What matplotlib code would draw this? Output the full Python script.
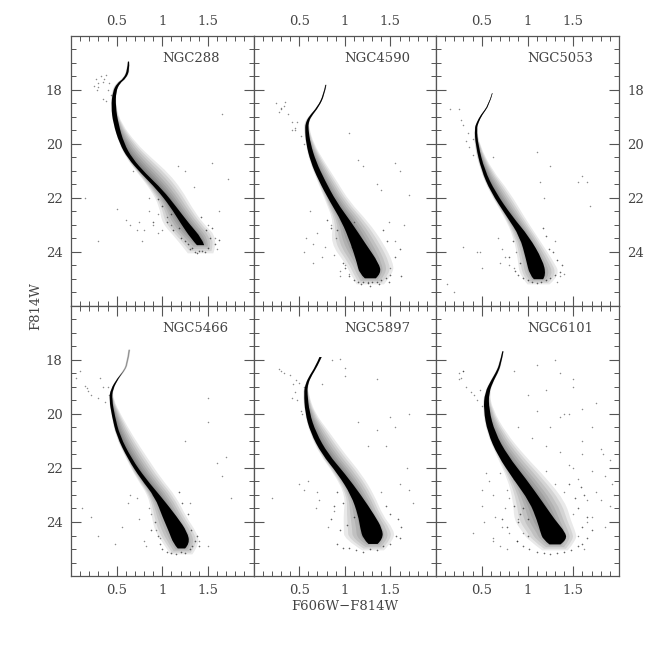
import matplotlib
matplotlib.use("Agg")
import matplotlib.pyplot as plt
from matplotlib.path import Path
from matplotlib.patches import PathPatch
from matplotlib.ticker import MultipleLocator, FixedLocator, FuncFormatter

names = ["NGC288", "NGC4590", "NGC5053", "NGC5466", "NGC5897", "NGC6101"]
x_ticks = [0.5, 1, 1.5]
y_ticks = [18, 20, 22, 24]

# ridge line: magnitude, colour, half width of dense core,
# red-side and blue-side extent of the surrounding star cloud
ngc288_mag = [16.95, 17.26, 17.57, 17.75, 18.06, 18.62, 19.23, 19.98, 20.53, 21.09, 21.70, 22.32, 22.94, 23.50, 24.05]
ngc288_col = [0.63, 0.63, 0.59, 0.52, 0.475, 0.465, 0.49, 0.556, 0.647, 0.793, 0.975, 1.12, 1.247, 1.375, 1.42]
ngc288_core = [0.006, 0.012, 0.012, 0.014, 0.018, 0.025, 0.028, 0.025, 0.025, 0.025, 0.03, 0.032, 0.045, 0.06, 0.04]
ngc288_red = [0.01, 0.02, 0.02, 0.02, 0.02, 0.03, 0.06, 0.16, 0.24, 0.28, 0.24, 0.2, 0.2, 0.24, 0.14]
ngc288_blue = [0.01, 0.02, 0.02, 0.03, 0.03, 0.03, 0.03, 0.03, 0.04, 0.06, 0.1, 0.15, 0.25, 0.22, 0.14]
ngc288_fx = [0.27, 0.30, 0.25, 0.33, 0.38, 0.28, 0.35, 0.42, 0.35, 0.38, 0.44, 0.40, 0.30, 0.36, 0.75, 0.65, 0.60, 0.80, 0.85, 0.72, 0.90, 0.95, 1.00, 0.85, 0.68, 0.50, 0.30, 0.15, 1.65, 1.55, 1.72, 1.62, 1.17, 1.25, 0.95, 0.78, 1.1, 1.05, 1.35, 1.5, 1.58, 1.6]
ngc288_fy = [17.6, 17.9, 17.85, 17.5, 17.45, 18.0, 17.7, 17.75, 18.35, 18.4, 18.2, 18.0, 17.75, 17.6, 22.9, 23.0, 22.8, 23.2, 22.5, 23.2, 23.0, 22.6, 23.2, 22.0, 21.0, 22.4, 23.6, 22.0, 18.9, 20.7, 21.3, 22.5, 20.8, 21.0, 23.3, 23.6, 23.0, 22.7, 21.6, 23.0, 23.5, 23.9]
ngc288_lx = [1.05, 1.12, 1.2, 1.28, 1.3, 1.36, 1.44, 1.5, 1.52, 1.58, 1.62, 1.4, 1.33, 1.25, 1.18, 1.1, 1.0, 0.95, 0.9, 1.48, 1.55, 1.42, 1.47, 1.38]
ngc288_ly = [22.9, 23.2, 23.5, 23.7, 23.9, 24.0, 23.95, 23.85, 23.5, 23.7, 23.55, 23.95, 23.85, 23.6, 23.1, 22.6, 22.3, 22.05, 22.9, 23.2, 23.1, 22.7, 24.0, 24.05]

ngc4590_mag = [17.81, 18.19, 18.62, 18.99, 19.2, 19.42, 19.98, 20.65, 21.33, 22.14, 22.88, 23.68, 24.42, 24.79, 25.2]
ngc4590_col = [0.793, 0.771, 0.709, 0.618, 0.59, 0.582, 0.60, 0.655, 0.745, 0.873, 1.018, 1.145, 1.255, 1.28, 1.28]
ngc4590_core = [0.004, 0.006, 0.008, 0.012, 0.015, 0.018, 0.024, 0.03, 0.035, 0.035, 0.05, 0.08, 0.12, 0.12, 0.06]
ngc4590_red = [0.01, 0.01, 0.01, 0.02, 0.02, 0.03, 0.06, 0.12, 0.16, 0.18, 0.24, 0.28, 0.28, 0.25, 0.15]
ngc4590_blue = [0.01, 0.01, 0.01, 0.02, 0.03, 0.03, 0.03, 0.04, 0.05, 0.08, 0.14, 0.3, 0.25, 0.22, 0.15]
ngc4590_fx = [0.25, 0.28, 0.33, 0.30, 0.38, 0.42, 0.45, 0.48, 0.46, 0.42, 0.52, 0.55, 0.35, 0.30, 0.62, 0.58, 0.70, 0.78, 0.85, 0.90, 0.75, 0.55, 0.65, 1.0, 1.05, 1.1, 0.88, 0.95, 0.65, 0.95, 1.6, 1.55, 1.7, 1.65, 1.48, 1.55, 1.35, 1.4, 1.2, 1.15, 1.05, 1.25, 1.5]
ngc4590_fy = [18.5, 18.8, 18.6, 18.7, 18.9, 19.2, 19.4, 19.2, 19.5, 19.5, 19.7, 20.0, 18.45, 18.65, 22.5, 23.5, 23.3, 23.8, 23.0, 23.5, 24.2, 24.0, 23.7, 24.5, 24.8, 22.9, 24.1, 24.7, 24.4, 24.9, 21.0, 20.7, 21.9, 23.0, 22.9, 23.6, 21.5, 21.7, 20.8, 20.6, 19.6, 25.1, 24.6]
ngc4590_lx = [1.05, 1.1, 1.15, 1.2, 1.25, 1.3, 1.35, 1.4, 1.45, 1.5, 1.18, 1.28, 1.38, 1.48, 0.98, 1.0, 1.08, 1.55, 1.6, 1.62, 0.92, 0.85, 0.8, 1.42, 1.46]
ngc4590_ly = [24.9, 25.05, 25.1, 25.1, 25.15, 25.1, 25.1, 25.05, 24.95, 24.85, 25.2, 25.25, 25.2, 25.1, 24.4, 24.6, 23.8, 24.2, 23.9, 24.9, 23.2, 23.1, 22.8, 23.2, 23.6]

ngc5053_mag = [18.12, 18.56, 18.93, 19.2, 19.42, 20.04, 20.96, 21.77, 22.69, 23.43, 24.30, 24.85, 25.2]
ngc5053_col = [0.615, 0.578, 0.495, 0.455, 0.433, 0.447, 0.513, 0.622, 0.804, 0.967, 1.076, 1.113, 1.12]
ngc5053_core = [0.003, 0.005, 0.008, 0.01, 0.012, 0.014, 0.018, 0.025, 0.03, 0.05, 0.09, 0.09, 0.05]
ngc5053_red = [0.005, 0.006, 0.01, 0.01, 0.015, 0.03, 0.1, 0.18, 0.16, 0.14, 0.2, 0.25, 0.12]
ngc5053_blue = [0.005, 0.006, 0.01, 0.01, 0.015, 0.03, 0.03, 0.04, 0.06, 0.12, 0.18, 0.2, 0.12]
ngc5053_fx = [0.15, 0.25, 0.27, 0.35, 0.30, 0.33, 0.40, 0.36, 0.40, 0.62, 0.48, 0.68, 0.72, 0.70, 0.75, 0.80, 0.87, 0.92, 0.85, 0.88, 1.14, 1.18, 1.25, 1.30, 1.55, 1.6, 1.65, 1.68, 1.4, 1.35, 0.3, 0.45, 0.5, 0.12, 1.32, 1.1, 0.2]
ngc5053_fy = [18.7, 18.7, 19.1, 19.6, 19.3, 19.9, 19.8, 20.1, 20.4, 20.5, 24.0, 23.5, 23.9, 24.4, 24.2, 24.5, 24.0, 23.5, 24.6, 23.2, 21.4, 22.0, 20.8, 23.6, 21.4, 21.2, 21.4, 22.3, 24.8, 24.9, 23.8, 24.0, 24.6, 25.2, 25.1, 20.3, 25.5]
ngc5053_lx = [0.86, 0.9, 0.95, 1.0, 1.05, 1.1, 1.15, 1.2, 1.25, 1.3, 1.35, 0.92, 1.32, 1.38, 1.24, 1.28, 1.2, 1.17, 0.8, 0.84, 1.0, 1.04]
ngc5053_ly = [24.7, 24.85, 24.95, 25.05, 25.1, 25.15, 25.1, 25.05, 24.95, 24.85, 24.75, 24.4, 24.3, 24.5, 23.9, 24.0, 23.4, 23.1, 24.2, 23.6, 23.9, 24.3]

ngc5466_mag = [17.62, 18.17, 18.45, 18.66, 19.09, 19.46, 20.07, 20.81, 21.67, 22.40, 23.08, 23.82, 24.37, 24.80, 25.2]
ngc5466_col = [0.639, 0.617, 0.57, 0.518, 0.445, 0.434, 0.464, 0.518, 0.646, 0.792, 0.956, 1.084, 1.175, 1.212, 1.21]
ngc5466_core = [0.0, 0.0, 0.0, 0.006, 0.012, 0.015, 0.016, 0.018, 0.022, 0.028, 0.035, 0.08, 0.1, 0.09, 0.04]
ngc5466_red = [0.012, 0.012, 0.012, 0.012, 0.015, 0.03, 0.09, 0.16, 0.2, 0.2, 0.2, 0.18, 0.2, 0.2, 0.12]
ngc5466_blue = [0.012, 0.012, 0.012, 0.012, 0.015, 0.02, 0.02, 0.03, 0.04, 0.07, 0.1, 0.2, 0.25, 0.2, 0.12]
ngc5466_fx = [0.05, 0.10, 0.15, 0.17, 0.19, 0.22, 0.32, 0.35, 0.30, 0.37, 0.42, 0.40, 0.12, 0.30, 0.22, 0.48, 0.56, 0.62, 0.85, 0.75, 0.72, 0.8, 0.93, 0.82, 0.98, 0.9, 0.88, 0.65, 1.5, 1.5, 1.25, 1.6, 1.65, 1.7, 1.75, 1.4, 1.5, 1.3]
ngc5466_fy = [18.65, 18.4, 18.95, 19.05, 19.15, 19.3, 18.65, 19.0, 19.4, 19.55, 19.3, 19.0, 23.5, 24.5, 23.8, 24.8, 24.2, 23.3, 23.5, 23.9, 23.1, 24.7, 24.3, 24.9, 24.6, 23.0, 23.7, 23.0, 19.4, 20.3, 21.0, 21.8, 22.3, 21.6, 23.1, 24.7, 24.9, 23.3]
ngc5466_lx = [0.97, 1.0, 1.05, 1.1, 1.15, 1.2, 1.25, 1.3, 1.33, 1.36, 1.38, 0.95, 1.32, 1.4, 1.28, 1.22, 1.18, 0.92, 0.88, 1.0, 1.05]
ngc5466_ly = [24.8, 25.0, 25.1, 25.15, 25.2, 25.1, 25.15, 25.0, 24.9, 24.7, 24.5, 24.5, 24.3, 24.9, 23.7, 23.3, 22.9, 24.0, 24.3, 23.5, 23.9]

ngc5897_mag = [17.89, 18.23, 18.66, 18.95, 19.21, 19.95, 20.69, 21.48, 22.22, 23.02, 23.75, 24.25, 24.62, 25.05]
ngc5897_col = [0.735, 0.691, 0.611, 0.58, 0.571, 0.589, 0.655, 0.782, 0.964, 1.127, 1.236, 1.291, 1.31, 1.31]
ngc5897_core = [0.012, 0.01, 0.012, 0.014, 0.018, 0.024, 0.03, 0.035, 0.04, 0.055, 0.09, 0.12, 0.11, 0.05]
ngc5897_red = [0.015, 0.015, 0.015, 0.02, 0.03, 0.08, 0.18, 0.22, 0.22, 0.2, 0.18, 0.24, 0.24, 0.12]
ngc5897_blue = [0.015, 0.015, 0.015, 0.02, 0.03, 0.03, 0.04, 0.06, 0.08, 0.12, 0.25, 0.3, 0.32, 0.12]
ngc5897_fx = [0.28, 0.30, 0.33, 0.40, 0.43, 0.47, 0.45, 0.42, 0.48, 0.52, 0.55, 0.53, 0.50, 0.86, 0.95, 1.0, 0.75, 1.0, 1.35, 1.5, 1.7, 1.55, 1.45, 1.68, 1.35, 1.25, 1.15, 0.5, 0.55, 0.6, 0.68, 0.72, 0.88, 0.82, 0.7, 0.2, 1.4, 1.6, 1.7, 1.75]
ngc5897_fy = [18.35, 18.4, 18.5, 18.55, 18.9, 18.75, 19.2, 19.4, 19.5, 19.9, 19.0, 20.0, 18.85, 18.0, 17.95, 18.3, 18.9, 18.6, 18.7, 20.1, 20.0, 20.5, 21.2, 22.0, 20.6, 21.2, 20.3, 22.6, 22.8, 22.5, 23.5, 23.2, 23.6, 24.2, 22.9, 23.1, 22.9, 22.6, 22.8, 23.3]
ngc5897_lx = [0.92, 0.98, 1.05, 1.12, 1.2, 1.28, 1.35, 1.42, 1.5, 1.56, 1.6, 0.95, 1.02, 1.1, 1.62, 1.58, 1.45, 1.5, 0.88, 0.85, 0.92, 0.98, 1.05]
ngc5897_ly = [24.8, 24.95, 24.95, 25.05, 25.1, 25.0, 25.05, 24.9, 24.8, 24.5, 24.6, 24.3, 24.1, 23.8, 24.2, 23.9, 23.4, 23.7, 23.4, 23.9, 22.9, 23.3, 22.7]

ngc6101_mag = [17.68, 18.17, 18.5, 18.72, 19.21, 19.83, 20.69, 21.55, 22.40, 23.26, 23.94, 24.37, 24.65, 25.05]
ngc6101_col = [0.731, 0.702, 0.66, 0.622, 0.555, 0.549, 0.604, 0.731, 0.913, 1.095, 1.204, 1.276, 1.30, 1.30]
ngc6101_core = [0.006, 0.008, 0.012, 0.014, 0.022, 0.03, 0.04, 0.055, 0.07, 0.07, 0.1, 0.135, 0.13, 0.06]
ngc6101_red = [0.01, 0.015, 0.02, 0.02, 0.03, 0.07, 0.16, 0.24, 0.3, 0.32, 0.27, 0.25, 0.24, 0.14]
ngc6101_blue = [0.01, 0.015, 0.02, 0.02, 0.03, 0.04, 0.05, 0.07, 0.13, 0.25, 0.35, 0.33, 0.3, 0.14]
ngc6101_fx = [0.25, 0.27, 0.3, 0.33, 0.38, 0.42, 0.45, 0.48, 0.5, 0.25, 0.3, 0.55, 0.5, 0.58, 0.62, 0.7, 0.75, 0.78, 0.85, 0.5, 0.65, 0.72, 0.8, 0.9, 0.62, 0.7, 0.8, 0.88, 0.95, 1.35, 1.5, 1.6, 1.7, 1.8, 1.9, 1.85, 1.75, 1.65, 1.55, 1.45, 1.35, 1.25, 1.1, 1.0, 0.9, 1.45, 1.6, 1.75, 1.9, 1.7, 1.5, 1.4, 1.3, 1.2, 1.55, 1.65, 1.8, 1.95, 1.1, 1.2, 1.3, 1.4, 1.5, 1.6, 0.85, 1.05, 1.2, 1.35, 1.5, 1.7, 1.85, 0.4, 0.52, 0.62, 0.78, 1.62, 1.92, 1.82]
ngc6101_fy = [18.5, 18.65, 18.4, 19.0, 19.2, 19.3, 19.5, 19.1, 19.7, 18.7, 18.4, 22.2, 22.8, 22.5, 23.0, 22.2, 23.5, 22.8, 22.4, 23.4, 23.8, 24.2, 24.4, 23.9, 24.7, 24.9, 23.1, 24.7, 24.4, 18.5, 19.0, 19.8, 20.5, 21.3, 21.7, 22.3, 22.9, 23.2, 22.4, 21.9, 21.4, 20.5, 19.9, 19.3, 20.5, 20.0, 21.0, 19.6, 23.4, 23.8, 23.7, 22.9, 22.6, 22.1, 24.5, 24.0, 23.2, 23.0, 18.2, 19.1, 18.0, 20.0, 18.7, 21.5, 18.4, 20.9, 21.2, 20.1, 22.0, 22.1, 24.2, 24.4, 24.0, 24.6, 25.0, 25.0, 22.6, 21.5]
ngc6101_lx = [0.88, 0.95, 1.02, 1.1, 1.18, 1.25, 1.32, 1.4, 1.48, 1.55, 1.6, 1.65, 0.9, 0.95, 1.0, 1.05, 1.6, 1.55, 1.62, 0.72, 0.78, 0.85, 0.92, 1.0, 1.65, 1.7, 1.58, 1.52, 1.45]
ngc6101_ly = [24.7, 24.9, 25.0, 25.1, 25.15, 25.2, 25.15, 25.1, 25.05, 24.9, 24.8, 24.6, 24.0, 23.5, 23.9, 23.2, 24.2, 23.5, 23.0, 23.9, 24.2, 23.4, 23.7, 24.5, 23.8, 24.3, 22.7, 23.1, 22.6]

mags = [ngc288_mag, ngc4590_mag, ngc5053_mag, ngc5466_mag, ngc5897_mag, ngc6101_mag]
cols = [ngc288_col, ngc4590_col, ngc5053_col, ngc5466_col, ngc5897_col, ngc6101_col]
cores = [ngc288_core, ngc4590_core, ngc5053_core, ngc5466_core, ngc5897_core, ngc6101_core]
reds = [ngc288_red, ngc4590_red, ngc5053_red, ngc5466_red, ngc5897_red, ngc6101_red]
blues = [ngc288_blue, ngc4590_blue, ngc5053_blue, ngc5466_blue, ngc5897_blue, ngc6101_blue]
fxs = [ngc288_fx, ngc4590_fx, ngc5053_fx, ngc5466_fx, ngc5897_fx, ngc6101_fx]
fys = [ngc288_fy, ngc4590_fy, ngc5053_fy, ngc5466_fy, ngc5897_fy, ngc6101_fy]
lxs = [ngc288_lx, ngc4590_lx, ngc5053_lx, ngc5466_lx, ngc5897_lx, ngc6101_lx]
lys = [ngc288_ly, ngc4590_ly, ngc5053_ly, ngc5466_ly, ngc5897_ly, ngc6101_ly]

FIG_W, FIG_H = 654, 646
L, R = [71, 253.5, 436], [253.5, 436, 619]
TOP, MID, BOT = 36, 306, 576
TXT = "#444444"
SPINE = "#555555"
LAYER_FRACTIONS = [1.0, 0.85, 0.7, 0.55, 0.42, 0.3, 0.2]

plt.rcParams["font.family"] = "DejaVu Serif"
fig = plt.figure(figsize=(FIG_W / 100, FIG_H / 100), dpi=100)


def curve_ops(points):
    """Quadratic Bezier run with the read points as control vertices."""
    verts, codes = [], []
    for j in range(1, len(points) - 1):
        px, py = points[j]
        nx, ny = points[j + 1]
        end = (nx, ny) if j == len(points) - 2 else ((px + nx) / 2, (py + ny) / 2)
        verts += [(px, py), end]
        codes += [Path.CURVE3, Path.CURVE3]
    return verts, codes


def band(ax, m, left, right, end_frac=1.0, **kw):
    # the final row marks the tail of the sequence; each band stops part way along it
    ym = list(m[:-1]) + [m[-2] + end_frac * (m[-1] - m[-2])]
    lpts = list(zip(left, ym))
    rpts = list(zip(right, ym))[::-1]
    v1, c1 = curve_ops(lpts)
    v2, c2 = curve_ops(rpts)
    verts = [lpts[0]] + v1 + [rpts[0]] + v2 + [lpts[0]]
    codes = [Path.MOVETO] + c1 + [Path.LINETO] + c2 + [Path.CLOSEPOLY]
    ax.add_patch(PathPatch(Path(verts, codes), linewidth=0, **kw))


def fmt(v, _):
    return f"{v:g}"


for i, name in enumerate(names):
    row, col = divmod(i, 3)
    y0, y1 = (TOP, MID) if row == 0 else (MID, BOT)
    ax = fig.add_axes([L[col] / FIG_W, 1 - y1 / FIG_H, (R[col] - L[col]) / FIG_W, (y1 - y0) / FIG_H])
    ax.set_xlim(0, 2)
    ax.set_ylim(26, 16)

    m, c, w, r, b = mags[i], cols[i], cores[i], reds[i], blues[i]
    for f in LAYER_FRACTIONS:
        band(ax, m, [ci - f * bi for ci, bi in zip(c, b)], [ci + f * ri for ci, ri in zip(c, r)],
             end_frac=f, facecolor="k", alpha=0.085)
    band(ax, m, [ci - wi for ci, wi in zip(c, w)], [ci + wi for ci, wi in zip(c, w)],
         end_frac=0.45, facecolor="k")
    ax.scatter(fxs[i], fys[i], s=1.2, c="k", alpha=0.45, linewidths=0)
    ax.scatter(lxs[i], lys[i], s=1.4, c="k", alpha=0.6, linewidths=0)

    ax.text(1.0, 16.85, name, ha="left", va="center", fontsize=9.5, color=TXT)

    ax.xaxis.set_major_locator(FixedLocator(x_ticks))
    ax.xaxis.set_minor_locator(MultipleLocator(0.1))
    ax.yaxis.set_major_locator(FixedLocator(y_ticks))
    ax.yaxis.set_minor_locator(MultipleLocator(0.5))
    ax.xaxis.set_major_formatter(FuncFormatter(fmt))
    ax.yaxis.set_major_formatter(FuncFormatter(fmt))
    ax.tick_params(which="major", direction="in", length=7.2, width=0.8, color=SPINE,
                   top=True, bottom=True, left=True, right=True,
                   labeltop=row == 0, labelbottom=row == 1,
                   labelleft=col == 0, labelright=(col == 2 and row == 0),
                   labelsize=9.5, labelcolor=TXT, pad=6)
    ax.tick_params(which="minor", direction="in", length=3.6, width=0.7, color=SPINE,
                   top=True, bottom=True, left=True, right=True)
    for s in ax.spines.values():
        s.set_color(SPINE)
        s.set_linewidth(0.9)

fig.text(36 / FIG_W, 1 - 306 / FIG_H, "F814W", rotation=90, ha="center", va="center", fontsize=9.5, color=TXT)
fig.text(345 / FIG_W, 1 - 607 / FIG_H, "F606W\u2212F814W", ha="center", va="center", fontsize=9.5, color=TXT)
fig.savefig("out.png", dpi=100)
